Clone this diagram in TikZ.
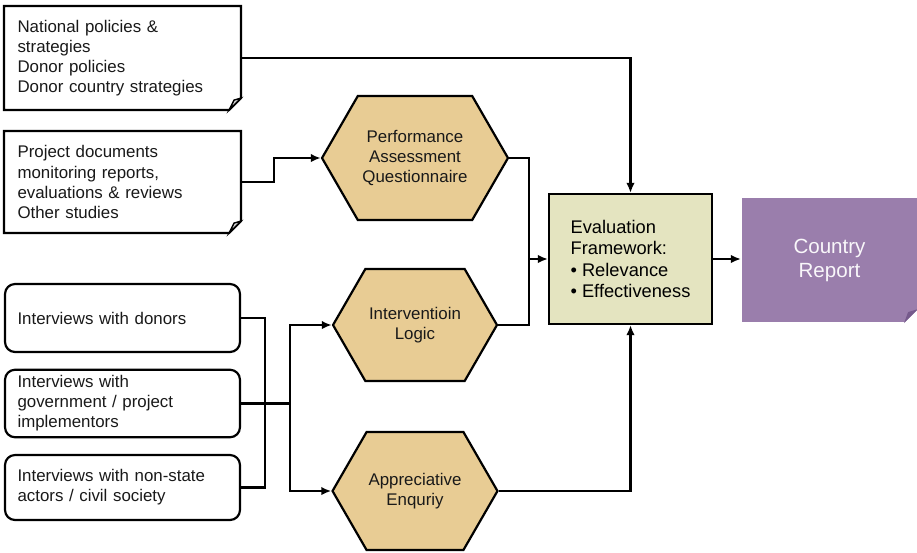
\documentclass[tikz,border=0pt]{standalone}
\usepackage{fontspec}
\setmainfont{Liberation Sans}
\usetikzlibrary{shapes.symbols,arrows.meta}

\definecolor{hexfill}{RGB}{232,204,148}
\definecolor{evalfill}{RGB}{228,228,192}
\definecolor{reportfill}{RGB}{154,126,172}
\definecolor{reportfold}{RGB}{118,90,140}

\tikzset{
  txt/.style={font=\fontsize{9.6}{11.4}\selectfont, text=black!90},
  doc/.style={txt, rectangle, fill=white, text width=4.2cm, inner xsep=0.25cm, minimum height=2cm, align=left},
  interview/.style={txt, rectangle, draw, rounded corners=0.2cm, text width=4.2cm, inner xsep=0.25cm, align=left},
  hexa/.style={txt, signal, signal to=east and west, signal pointer angle=120, draw, fill=hexfill, align=center, inner sep=1pt},
}

\begin{document}
\begin{tikzpicture}[x=0.02cm,y=-0.02cm,>={Latex[length=2mm,width=1.7mm]},line width=1.25pt]
\useasboundingbox (0,0) rectangle (917,552);
\path
(122.5,58)    node[doc, minimum height=2.04cm] (doc1) {National policies \&\\strategies\\Donor policies\\Donor country strategies}
(122.5,182)   node[doc] (doc2) {Project documents\\monitoring reports,\\evaluations \& reviews\\Other studies}
(122.5,318)   node[interview, minimum height=1.36cm] (int1) {Interviews with donors}
(122.5,403.5) node[interview, minimum height=1.34cm] (int2) {Interviews with\\government / project\\implementors}
(122.5,487.5) node[interview, minimum height=1.3cm] (int3) {Interviews with non-state\\actors / civil society}
(415,158)     node[hexa, minimum width=3.72cm, minimum height=2.48cm] (paq) {Performance\\Assessment\\Questionnaire}
(415,325)     node[hexa, minimum width=3.28cm, minimum height=2.24cm] (il) {Interventioin\\Logic}
(415,491)     node[hexa, minimum width=3.3cm, minimum height=2.36cm] (ae) {Appreciative\\Enquriy}
(630.5,259)   node[draw, fill=evalfill, minimum width=3.26cm, minimum height=2.6cm, align=left,
                   font=\fontsize{10.4}{12}\selectfont] (eval) {Evaluation\\Framework:\\• Relevance\\• Effectiveness}
(829.5,260)   node[fill=reportfill, minimum width=3.5cm, minimum height=2.48cm, align=center, text=white!94!reportfill,
                   font=\fontsize{11.7}{13.7}\selectfont] (report) {Country\\Report};

% folded corners
\foreach \n in {doc1,doc2}{
  \draw (\n.north west) -- (\n.north east) -- ([yshift=0.24cm]\n.south east)
        -- ([xshift=-0.24cm]\n.south east) -- (\n.south west) -- cycle;
  \draw[fill=black!15, line width=0.8pt] ([yshift=0.24cm]\n.south east) -- ([xshift=-0.14cm,yshift=0.2cm]\n.south east)
        -- ([xshift=-0.24cm]\n.south east) -- cycle;
}
\fill[white] ([yshift=0.28cm]report.south east) -- (report.south east) -- ([xshift=-0.28cm]report.south east) -- cycle;
\fill[reportfold] ([yshift=0.28cm]report.south east) -- ([xshift=-0.2cm,yshift=0.22cm]report.south east)
      -- ([xshift=-0.28cm]report.south east) -- cycle;

\coordinate (jn) at (529,259);
\coordinate (bus) at (265,403.5);
\coordinate (split) at (290,403.5);

\draw[->] (doc1.east) -| (eval.north);
\draw[->] (doc2.east) -- ++(33,0) |- (paq.west);
\draw[->] (paq.east) -| (jn) -- (eval.west);
\draw (il.east) -| (jn);
\draw[->] (ae.east) -| (eval.south);
\draw[->] (eval.east) -- (eval.east -| report.west);
\draw (int1.east) -| (bus);
\draw (int3.east) -| (bus);
\draw (int2.east) -- (split);
\draw[->] (split) |- (il.west);
\draw[->] (split) |- (ae.west);
\end{tikzpicture}
\end{document}
